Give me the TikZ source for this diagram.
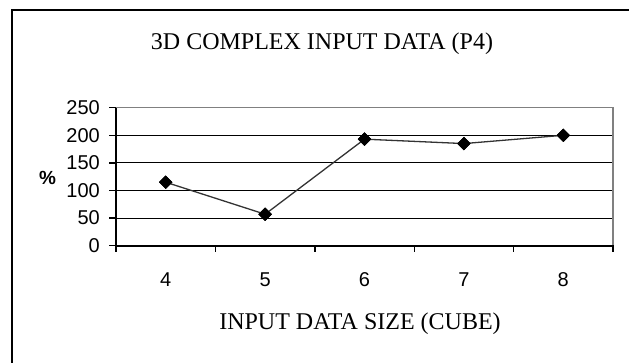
\documentclass[tikz,border=0pt]{standalone}
\usepackage{fontspec}
\setmainfont{Liberation Serif}
\setsansfont{Liberation Sans}
\usetikzlibrary{shapes.geometric}
\begin{document}
\begin{tikzpicture}[x=1pt,y=-1pt,
  gridline/.style={black,line width=0.9pt},
  plotframe/.style={gray,line width=1.2pt},
  axisline/.style={black,line width=1.8pt},
  ticklabel/.style={font=\sffamily\fontsize{20}{20}\selectfont,inner sep=0pt},
  datamark/.style={diamond,fill=black,draw=black,inner sep=0pt,minimum size=13pt},
  series/.style={draw=black!80,line width=1.3pt},
  captiontext/.style={font=\fontsize{24}{24}\selectfont,inner sep=0pt}]
\useasboundingbox (0,0) rectangle (629,363);
\begin{scope}
\clip (0,0) rectangle (629,363);
% outer frame (only its top and left edges fall inside the page)
\draw[line width=2pt] (11.5,380) -- (11.5,10) -- (640,10);

% title
\node[captiontext,anchor=base] (title) at (322,50) {3D COMPLEX INPUT DATA (P4)};

% plot area: gridlines every 50 units
\foreach \v in {50,100,150,200}
  \draw[gridline] (116,{245.7-\v*0.552}) -- (613,{245.7-\v*0.552});
\draw[plotframe] (116,107.7) -- (613,107.7) -- (613,245.7);

% axes with tick marks
\draw[axisline] (116,245.7) -- (116,107.7);
\draw[axisline] (116,245.7) -- (613.5,245.7);
\foreach \v in {0,50,...,250}
  \draw[black,line width=1.4pt] (109,{245.7-\v*0.552}) -- (116,{245.7-\v*0.552});
\foreach \i in {0,...,5}
  \draw[black,line width=1.4pt] ({116+\i*99.4},245.7) -- ({116+\i*99.4},252.5);

% y tick labels
\foreach \v in {0,50,...,250}
  \node[ticklabel,anchor=east] (y\v) at (100,{245.7-\v*0.552}) {\v};
\node[font=\sffamily\bfseries\fontsize{19}{19}\selectfont,inner sep=0pt] (ylab) at (47.5,178) {\%};

% x tick labels
\foreach \n [count=\i from 0] in {4,5,6,7,8}
  \node[ticklabel,anchor=base] (x\n) at ({165.7+\i*99.4},287) {\n};

% x axis caption
\node[captiontext,anchor=base] (xlab) at (360,329) {INPUT DATA SIZE (CUBE)};

% data series
\node[datamark] (p4) at (165.7,{245.7-115*0.552}) {};
\node[datamark] (p5) at (265.1,{245.7-57*0.552}) {};
\node[datamark] (p6) at (364.5,{245.7-193*0.552}) {};
\node[datamark] (p7) at (463.9,{245.7-185*0.552}) {};
\node[datamark] (p8) at (563.3,{245.7-200*0.552}) {};
\draw[series] (p4.center) -- (p5.center) -- (p6.center) -- (p7.center) -- (p8.center);
\foreach \p in {p4,p5,p6,p7,p8}
  \fill[black] (\p.north) -- (\p.east) -- (\p.south) -- (\p.west) -- cycle;
\end{scope}
\end{tikzpicture}
\end{document}
